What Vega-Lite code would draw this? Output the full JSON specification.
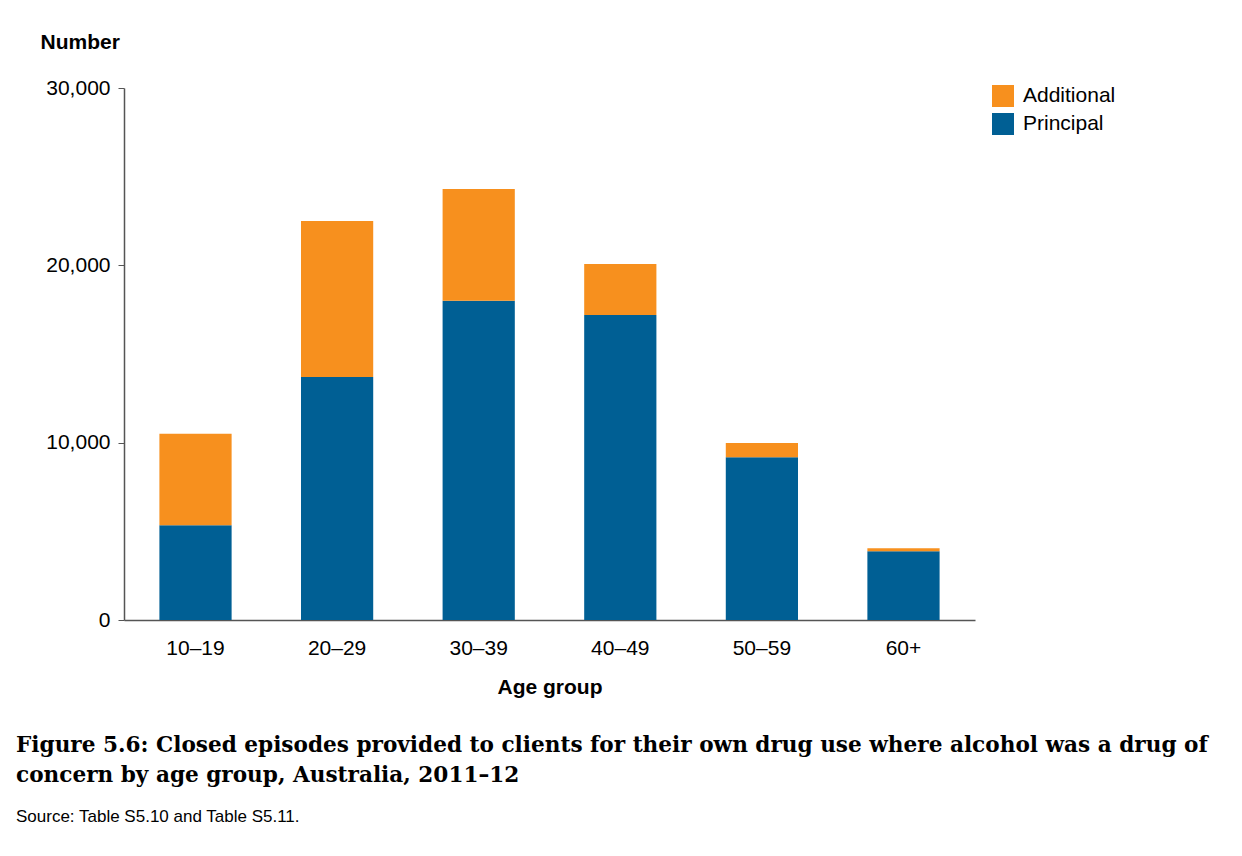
{
  "$schema": "https://vega.github.io/schema/vega-lite/v6.json",
  "width": 851,
  "height": 532,
  "autosize": {"type": "none"},
  "padding": {"left": 124, "top": 88, "right": 267, "bottom": 236},
  "background": "white",
  "data": {
    "values": [
      {"age": "10–19", "type": "Principal", "n": 5350},
      {"age": "10–19", "type": "Additional", "n": 5150},
      {"age": "20–29", "type": "Principal", "n": 13700},
      {"age": "20–29", "type": "Additional", "n": 8800},
      {"age": "30–39", "type": "Principal", "n": 18000},
      {"age": "30–39", "type": "Additional", "n": 6300},
      {"age": "40–49", "type": "Principal", "n": 17200},
      {"age": "40–49", "type": "Additional", "n": 2880},
      {"age": "50–59", "type": "Principal", "n": 9180},
      {"age": "50–59", "type": "Additional", "n": 800},
      {"age": "60+", "type": "Principal", "n": 3880},
      {"age": "60+", "type": "Additional", "n": 170}
    ]
  },
  "title": {
    "text": ["Figure 5.6: Closed episodes provided to clients for their own drug use where alcohol was a drug of", "concern by age group, Australia, 2011–12"],
    "subtitle": "Source: Table S5.10 and Table S5.11.",
    "orient": "bottom",
    "anchor": "start",
    "frame": "group",
    "dx": -108,
    "offset": 38,
    "font": "DejaVu Serif",
    "fontSize": 21.6,
    "fontWeight": "bold",
    "color": "black",
    "lineHeight": 30,
    "subtitleFont": "Liberation Sans",
    "subtitleFontSize": 17,
    "subtitleColor": "black",
    "subtitlePadding": 22
  },
  "mark": {"type": "bar", "width": {"band": 1}},
  "encoding": {
    "x": {
      "field": "age",
      "type": "nominal",
      "sort": null,
      "scale": {"paddingInner": 0.49, "paddingOuter": 0.25},
      "axis": {
        "title": "Age group",
        "titleFont": "Liberation Sans",
        "titleFontSize": 21,
        "titleFontWeight": "bold",
        "titleColor": "black",
        "titlePadding": 18,
        "labelAngle": 0,
        "labelFont": "Liberation Sans",
        "labelFontSize": 21,
        "labelColor": "black",
        "labelPadding": 17,
        "ticks": false,
        "domainColor": "#555555",
        "domainWidth": 1.5
      }
    },
    "y": {
      "field": "n",
      "type": "quantitative",
      "stack": "zero",
      "scale": {"domain": [0, 30000], "nice": false},
      "axis": {
        "values": [0, 10000, 20000, 30000],
        "format": ",.0f",
        "grid": false,
        "title": "Number",
        "titleAngle": 0,
        "titleAlign": "left",
        "titleBaseline": "middle",
        "titleX": -84,
        "titleY": -46,
        "titleFont": "Liberation Sans",
        "titleFontSize": 21,
        "titleFontWeight": "bold",
        "titleColor": "black",
        "labelFont": "Liberation Sans",
        "labelFontSize": 21,
        "labelColor": "black",
        "labelPadding": 8,
        "tickSize": 6,
        "tickColor": "#555555",
        "domainColor": "#555555",
        "domainWidth": 1.5
      }
    },
    "color": {
      "field": "type",
      "type": "nominal",
      "scale": {"domain": ["Additional", "Principal"], "range": ["#F7901E", "#005F94"]},
      "legend": {
        "title": null,
        "orient": "none",
        "legendX": 868,
        "legendY": -3,
        "symbolType": "square",
        "symbolSize": 484,
        "symbolStrokeWidth": 0,
        "labelFont": "Liberation Sans",
        "labelFontSize": 21,
        "labelColor": "black",
        "labelOffset": 9,
        "rowPadding": 6
      }
    },
    "order": {"field": "type", "sort": "descending"}
  },
  "config": {"view": {"stroke": null}}
}
